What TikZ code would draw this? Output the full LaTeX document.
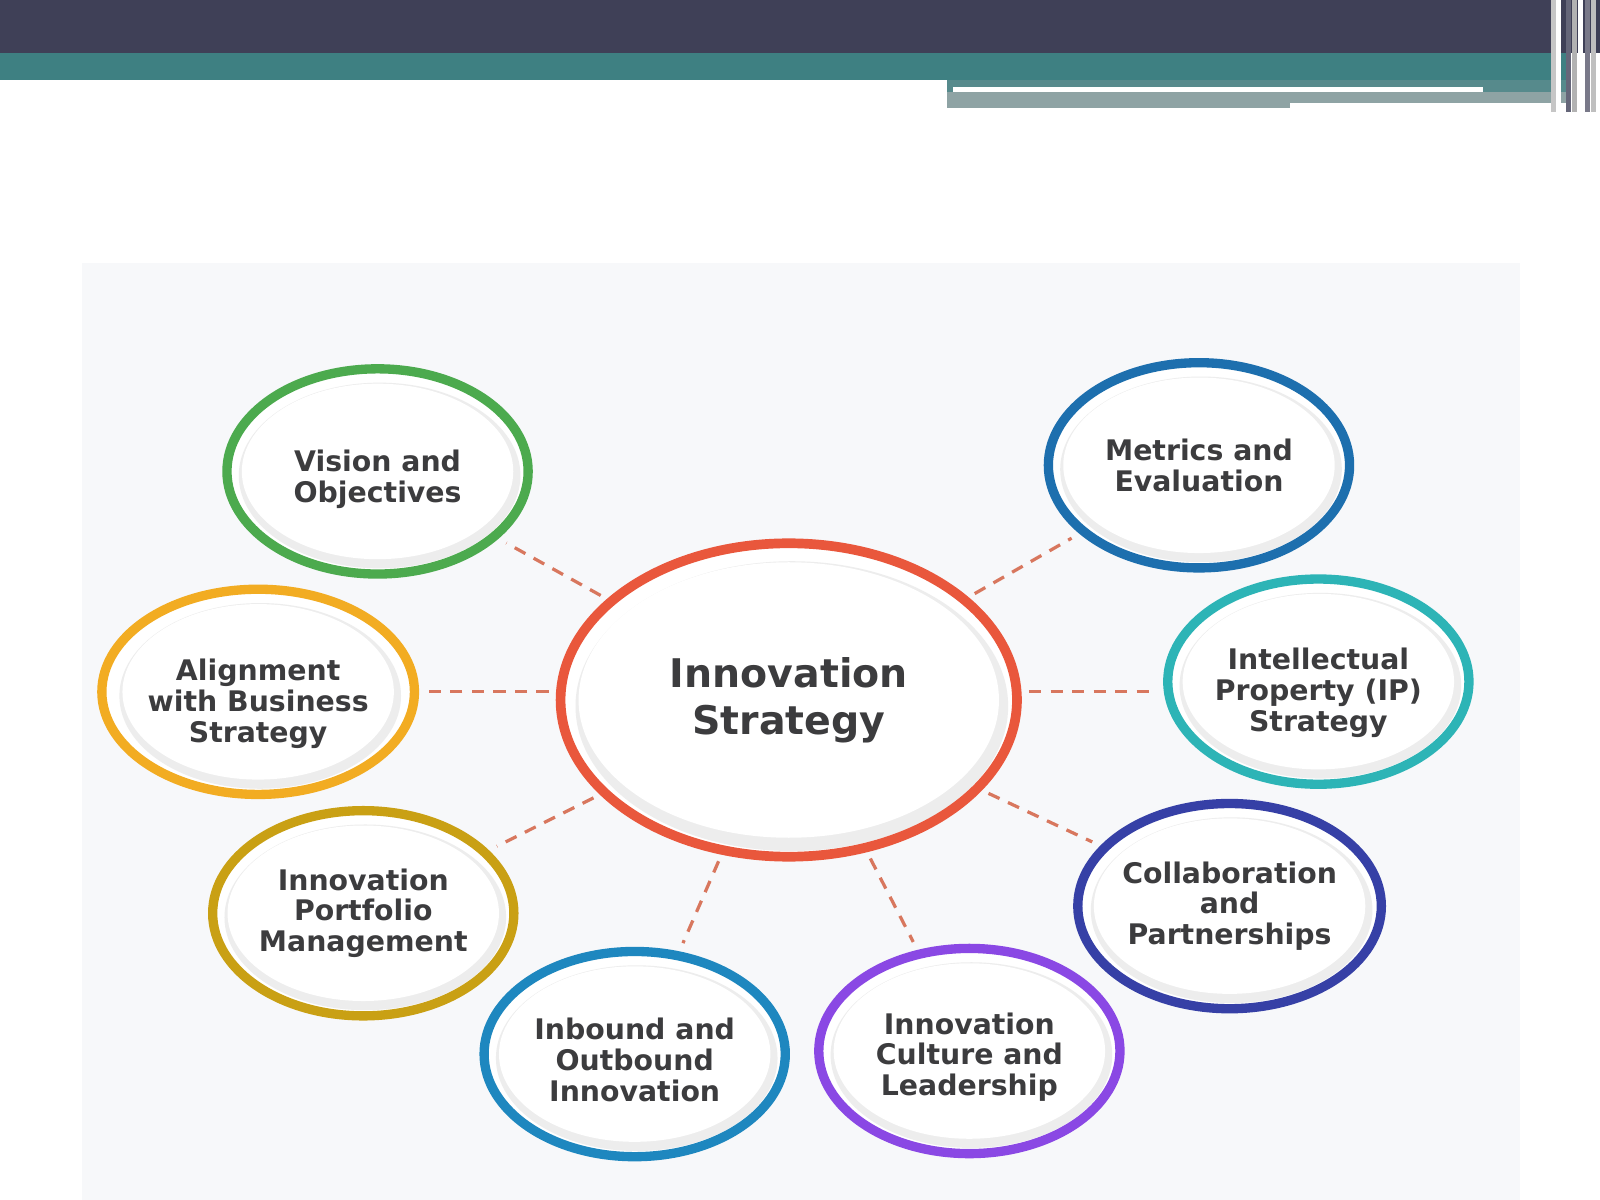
\documentclass[tikz,border=0pt]{standalone}
\usepackage{fontspec}
\setmainfont{DejaVu Sans}
\usetikzlibrary{positioning}
\usetikzlibrary{shapes.geometric}

\definecolor{barDark}{HTML}{3F4057}
\definecolor{barTeal}{HTML}{3E8082}
\definecolor{barGrey}{HTML}{8EA3A4}
\definecolor{panelGrey}{HTML}{F7F8FA}
\definecolor{txtGrey}{HTML}{3C3C3E}
\definecolor{linkRed}{HTML}{D8775E}
\definecolor{hubRed}{HTML}{E9573C}
\definecolor{visGreen}{HTML}{4CAA4E}
\definecolor{metBlue}{HTML}{1D6FAE}
\definecolor{aliOrange}{HTML}{F2AC22}
\definecolor{iprTeal}{HTML}{2DB4B6}
\definecolor{pfmGold}{HTML}{C9A014}
\definecolor{colIndigo}{HTML}{3640A6}
\definecolor{inbBlue}{HTML}{1E87BF}
\definecolor{culPurple}{HTML}{8A48E4}

\newcommand{\lowr}[1]{\rule{0pt}{#1}}

\tikzset{
 bubble/.style={ellipse,draw=#1,line width=2.6pt,fill=white,inner sep=0pt,
  minimum width=2.95cm,minimum height=2.01cm,align=center,text=txtGrey,
  font=\bfseries\fontsize{7.9}{8.6}\selectfont,
  path picture={\fill[gray!14]([shift={(2,4)}]path picture bounding box.center) ellipse (138 and 91);
   \fill[white](path picture bounding box.center) ellipse (133 and 86);}},
 hub/.style={ellipse,draw=hubRed,line width=2.7pt,fill=white,inner sep=0pt,
  minimum width=4.47cm,minimum height=3.07cm,align=center,text=txtGrey,
  font=\bfseries\fontsize{11}{13.1}\selectfont,
  path picture={\fill[gray!14]([shift={(3,6)}]path picture bounding box.center) ellipse (212 and 142);
   \fill[white](path picture bounding box.center) ellipse (206 and 135);}},
 link/.style={draw=linkRed,line width=0.9pt,dash pattern=on 3.4pt off 2.6pt,
  shorten <=2pt,shorten >=2.5pt}
}

\begin{document}
\begin{tikzpicture}[x=0.01cm,y=-0.01cm]
 \useasboundingbox (0,0) rectangle (1568,1176);
 \fill[white] (0,0) rectangle (1568,1176);
 \fill[panelGrey] (80,258) rectangle (1490,1176);
 \fill[barDark] (0,0) rectangle (1568,52);
 \fill[barTeal] (0,52) rectangle (1535,78);
 \fill[barTeal!70!barGrey] (928,78) rectangle (1535,90);
 \fill[barGrey] (928,90) rectangle (1535,106);
 \fill[white] (934,85) rectangle (1453,90);
 \fill[white] (1264,101) rectangle (1537,107);
 \foreach \x/\c in {1522/gray!45,1527/white,1537/barDark!80,1543/gray!60,1549/white,1556/barDark!70,1562/gray!50}
  \draw[\c,line width=1.4pt] (\x,0) -- (\x,110);

 \node[hub] (hub) at (773,686) {Innovation\\Strategy};
 \node[bubble=visGreen] (vis) at (370,462) {\lowr{10.6pt}Vision and\\Objectives};
 \node[bubble=metBlue] (met) at (1175,456) {Metrics and\\Evaluation};
 \node[bubble=aliOrange] (ali) at (253,678) {\lowr{12.8pt}Alignment\\with Business\\Strategy};
 \node[bubble=iprTeal] (ipr) at (1292,668) {\lowr{12.2pt}Intellectual\\Property (IP)\\Strategy};
 \node[bubble=pfmGold] (pfm) at (356,895) {Innovation\\Portfolio\\Management};
 \node[bubble=colIndigo] (col) at (1205,888) {Collaboration\\and\\Partnerships};
 \node[bubble=inbBlue] (inb) at (622,1033) {\lowr{9.4pt}Inbound and\\Outbound\\Innovation};
 \node[bubble=culPurple] (cul) at (950,1030) {\lowr{9.4pt}Innovation\\Culture and\\Leadership};

 \foreach \s in {vis,met,pfm,col,inb,cul}
  \draw[link] (hub) -- (\s);
 \draw[link] (ali.east -| hub.west) -- (ali.east);
 \draw[link] ([yshift=-2.8pt]ipr.west -| hub.east) -- ([yshift=-2.8pt]ipr.west);
\end{tikzpicture}
\end{document}
